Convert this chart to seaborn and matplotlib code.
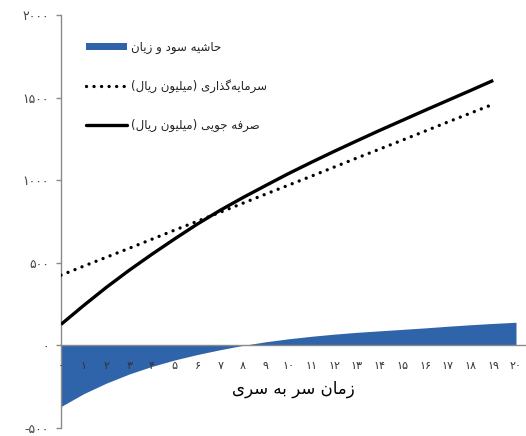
import matplotlib
matplotlib.use("Agg")
import matplotlib.pyplot as plt
import seaborn as sns
from matplotlib.patches import Patch
from matplotlib.lines import Line2D

# ---- data -------------------------------------------------------------
years = list(range(0, 21))
line_years = list(range(0, 20))
margin = [-370, -292, -228, -173, -127, -88, -55, -26, 0, 22, 40,
          55, 68, 79, 88, 97, 106, 116, 125, 133, 140]
investment = [425, 480, 534, 588, 643, 698, 752, 806, 861, 916,
              970, 1024, 1079, 1134, 1188, 1242, 1297, 1352, 1406, 1460]
savings = [127, 242, 352, 455, 552, 645, 735, 818, 895, 968,
           1040, 1108, 1174, 1238, 1301, 1362, 1423, 1483, 1543, 1604]
y_ticks = [-500, 0, 500, 1000, 1500, 2000]

label_margin = "حاشیه سود و زیان"
label_invest = "سرمایه‌گذاری (میلیون ریال)"
label_saving = "صرفه جویی (میلیون ریال)"
x_title = "زمان سر به سری"

# ---- minimal Arabic-script shaping (contextual forms + RTL order) -----
FORMS = {
    'ا': ('\uFE8D', '\uFE8E', None, None),
    'ب': ('\uFE8F', '\uFE90', '\uFE91', '\uFE92'),
    'ج': ('\uFE9D', '\uFE9E', '\uFE9F', '\uFEA0'),
    'ح': ('\uFEA1', '\uFEA2', '\uFEA3', '\uFEA4'),
    'د': ('\uFEA9', '\uFEAA', None, None),
    'ذ': ('\uFEAB', '\uFEAC', None, None),
    'ر': ('\uFEAD', '\uFEAE', None, None),
    'ز': ('\uFEAF', '\uFEB0', None, None),
    'س': ('\uFEB1', '\uFEB2', '\uFEB3', '\uFEB4'),
    'ش': ('\uFEB5', '\uFEB6', '\uFEB7', '\uFEB8'),
    'ص': ('\uFEB9', '\uFEBA', '\uFEBB', '\uFEBC'),
    'ف': ('\uFED1', '\uFED2', '\uFED3', '\uFED4'),
    'ل': ('\uFEDD', '\uFEDE', '\uFEDF', '\uFEE0'),
    'م': ('\uFEE1', '\uFEE2', '\uFEE3', '\uFEE4'),
    'ن': ('\uFEE5', '\uFEE6', '\uFEE7', '\uFEE8'),
    'ه': ('\uFEE9', '\uFEEA', '\uFEEB', '\uFEEC'),
    'و': ('\uFEED', '\uFEEE', None, None),
    'ی': ('\uFBFC', '\uFBFD', '\uFBFE', '\uFBFF'),
    'گ': ('\uFB92', '\uFB93', '\uFB94', '\uFB95'),
}
MIRROR = {'(': ')', ')': '('}


def shape(text):
    out = []
    for i, c in enumerate(text):
        if c not in FORMS:
            out.append(c)
            continue
        prev = text[i - 1] if i > 0 else None
        nxt = text[i + 1] if i + 1 < len(text) else None
        join_prev = prev in FORMS and FORMS[prev][2] is not None
        join_next = nxt in FORMS and FORMS[c][2] is not None
        iso, fin, ini, med = FORMS[c]
        if join_prev and join_next:
            out.append(med)
        elif join_prev:
            out.append(fin)
        elif join_next:
            out.append(ini)
        else:
            out.append(iso)
    visual = ''.join(MIRROR.get(c, c) for c in reversed(out))
    return visual.replace('\u200c', '')


PERSIAN_DIGITS = str.maketrans('0123456789', '۰۱۲۳۴۵۶۷۸۹')


def fa_num(v):
    return str(v).translate(PERSIAN_DIGITS)


# ---- figure -----------------------------------------------------------
sns.set_style("white")
plt.rcParams['font.family'] = ['DejaVu Sans']

W, H = 526, 436
fig = plt.figure(figsize=(W / 100, H / 100), dpi=100)
ax = fig.add_axes([61 / W, 8 / H, (W - 61) / W, 413 / H])
ax.set_axisbelow(False)

blue = '#2F64AA'
ax.fill_between(years, margin, 0, color=blue, linewidth=0, zorder=1)

sns.lineplot(x=line_years, y=investment, ax=ax, color='black',
             linewidth=2.4, zorder=3)
dot_line = ax.lines[-1]
dot_line.set_linestyle((0, (0.01, 2.25)))
dot_line.set_dash_capstyle('round')

sns.lineplot(x=line_years, y=savings, ax=ax, color='black',
             linewidth=2.4, zorder=3)
ax.lines[-1].set_solid_capstyle('butt')

ax.set_xlim(0, (W - 61) / 22.75)
ax.set_ylim(-500, 2000)

for side in ('top', 'right'):
    ax.spines[side].set_visible(False)
ax.spines['left'].set_color('#8a8a8a')
ax.spines['left'].set_linewidth(1.0)
ax.spines['bottom'].set_position(('data', 0))
ax.spines['bottom'].set_color('#8a8a8a')
ax.spines['bottom'].set_linewidth(1.0)
ax.spines['bottom'].set_zorder(2)

ax.set_yticks(y_ticks)
ax.set_yticklabels([fa_num(v) if v >= 0 else '-' + fa_num(-v) for v in y_ticks])
ax.tick_params(axis='y', direction='out', length=3.6, width=1.0,
               color='#8a8a8a', pad=5, labelsize=9, labelcolor='#444444', left=True)

ax.set_xticks(years)
ax.set_xticklabels([fa_num(v) for v in years])
ax.tick_params(axis='x', length=0, pad=11, labelsize=8, labelcolor='#333333', bottom=True)
ax.xaxis.set_zorder(4)

ax.set_xlabel(shape(x_title), fontsize=12, color='black', labelpad=7)
ax.set_ylabel('')

handles = [
    Patch(facecolor=blue, edgecolor='none'),
    Line2D([], [], color='black', linewidth=2.4,
           linestyle=(0, (0.01, 2.25)), dash_capstyle='round'),
    Line2D([], [], color='black', linewidth=2.4),
]
labels = [shape(label_margin), shape(label_invest), shape(label_saving)]
leg = ax.legend(handles, labels, loc='upper left',
                bbox_to_anchor=(86 / W, 1 - 41 / H), bbox_transform=fig.transFigure,
                frameon=False, fontsize=8.5, handlelength=3.5, handleheight=0.55,
                handletextpad=0.3, labelspacing=2.15, borderpad=0, borderaxespad=0)
for t in leg.get_texts():
    t.set_color('#222222')

fig.savefig('out.png', dpi=100)
